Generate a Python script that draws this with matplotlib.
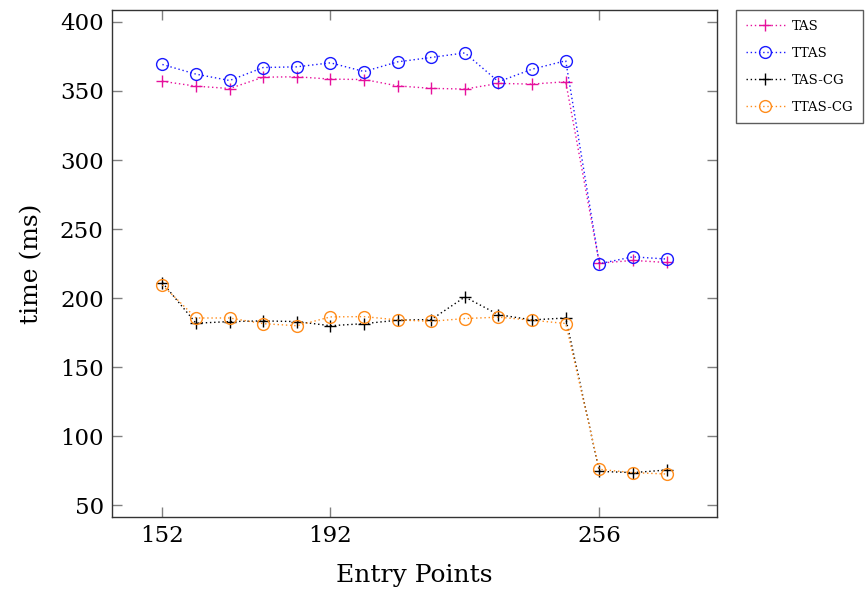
#!/usr/bin/env python3

"""
Timing of the lock variants (TAS, TTAS and their CG versions)
against the number of entry points.
"""

import matplotlib
matplotlib.use("Agg")
import matplotlib.pyplot as plt


# Data
entry_points = [152, 160, 168, 176, 184, 192, 200, 208, 216, 224, 232, 240, 248, 256, 264, 272]

tas = [357.0, 353.5, 351.8, 360.0, 360.3, 358.6, 358.3, 353.7, 351.9, 351.4, 355.5, 355.0, 356.7, 225.3, 227.3, 225.8]
ttas = [369.2, 362.2, 357.6, 367.0, 367.5, 370.4, 364.1, 371.1, 374.3, 377.6, 356.7, 365.8, 371.9, 224.9, 229.9, 228.3]
tas_cg = [211.2, 181.8, 183.0, 183.5, 183.0, 180.0, 181.5, 184.0, 184.5, 200.8, 188.0, 184.2, 185.6, 74.5, 73.6, 75.5]
ttas_cg = [209.5, 185.6, 185.6, 181.5, 180.0, 186.4, 186.6, 184.2, 183.2, 185.2, 186.2, 184.0, 181.6, 76.0, 73.6, 72.6]

x_ticks = [152, 192, 256]
y_ticks = [50, 100, 150, 200, 250, 300, 350, 400]


def create_plot():

    plt.rcParams["font.family"] = ["DejaVu Serif"]

    fig = plt.figure(figsize=(8.68, 5.93), dpi=100)
    ax = fig.add_axes([0.129, 0.128, 0.697, 0.855])

    series = [
        ("TAS", tas, "#e6109c", "+", 9),
        ("TTAS", ttas, "#1a1aff", "o", 8.5),
        ("TAS-CG", tas_cg, "black", "+", 9),
        ("TTAS-CG", ttas_cg, "#ff8c1a", "o", 8.5),
    ]

    for label, values, color, marker, size in series:
        ax.plot(entry_points, values, linestyle=(0, (1, 2)), linewidth=1.0,
                color=color, marker=marker, markersize=size,
                markerfacecolor="none", markeredgecolor=color,
                markeredgewidth=1.0, label=label)

    ax.set_xlim(140, 284)
    ax.set_ylim(41.4, 408.6)
    ax.set_xticks(x_ticks)
    ax.set_yticks(y_ticks)

    ax.tick_params(direction="in", length=7, color="gray", width=1.0,
                   top=True, right=True, labelsize=16.5, pad=6)

    for spine in ax.spines.values():
        spine.set_linewidth(1.0)
        spine.set_color("#333333")

    ax.set_xlabel("Entry Points", fontsize=18, labelpad=12)
    ax.set_ylabel("time (ms)", fontsize=18, labelpad=12)

    leg = ax.legend(loc="upper left", bbox_to_anchor=(1.031, 1.0),
                    fontsize=9.5, frameon=True, fancybox=False,
                    edgecolor="#333333", handlelength=3.0,
                    labelspacing=1.05, borderpad=0.75, handletextpad=0.5,
                    borderaxespad=0.0)
    leg.get_frame().set_linewidth(1.0)

    fig.savefig("out.png", dpi=100)


def main():
    create_plot()


if __name__ == "__main__":
    main()
